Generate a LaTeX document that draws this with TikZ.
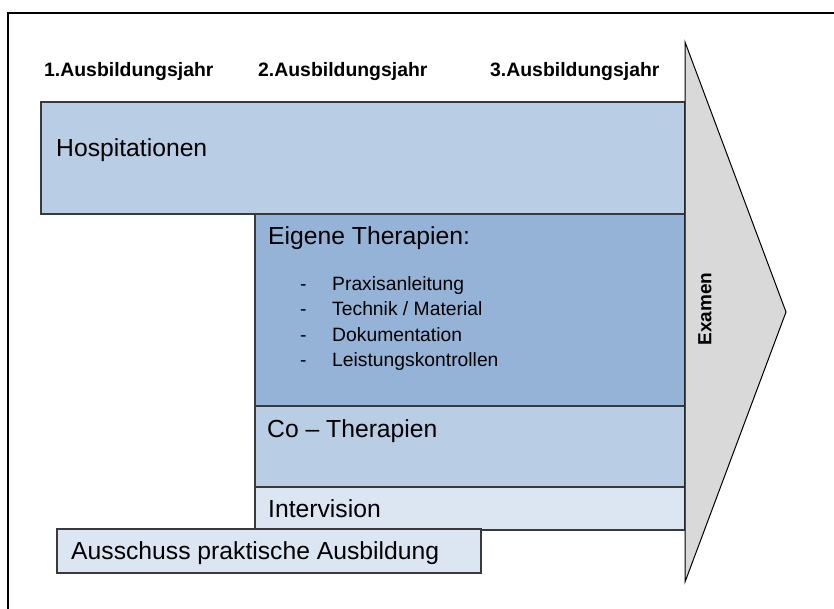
\documentclass[tikz,border=0pt]{standalone}
\usepackage{fontspec}
\setmainfont{Liberation Sans}
\definecolor{bluemid}{HTML}{B9CDE5}
\definecolor{bluedark}{HTML}{95B3D7}
\definecolor{bluelight}{HTML}{DCE6F2}
\definecolor{arrowgray}{HTML}{D9D9D9}
\definecolor{boxline}{HTML}{3A3A3A}
\begin{document}
\begin{tikzpicture}[x=1pt,y=-1pt,
  panel/.style={draw=boxline,line width=1.3pt},
  yearlbl/.style={anchor=base west,inner sep=0pt,font=\fontsize{19.4}{22}\selectfont\bfseries},
  bigtxt/.style={anchor=base west,inner sep=0pt,font=\fontsize{24.7}{28}\selectfont},
  itemtxt/.style={anchor=base west,inner sep=0pt,font=\fontsize{19.3}{22}\selectfont}]
\useasboundingbox (0,0) rectangle (834,608);
% outer frame
\draw[line width=2pt] (8,640) -- (8,13) -- (860,13);
% year labels
\node[yearlbl] (y1) at (44,76) {1.Ausbildungsjahr};
\node[yearlbl] (y2) at (258,76) {2.Ausbildungsjahr};
\node[yearlbl] (y3) at (490,76) {3.Ausbildungsjahr};
% panels
\filldraw[panel,fill=bluemid] (41,102) rectangle (685,214);
\filldraw[panel,fill=bluedark] (255,214) rectangle (685,406);
\filldraw[panel,fill=bluemid] (255,406) rectangle (685,487);
\filldraw[panel,fill=bluelight] (255,487) rectangle (685,530);
\filldraw[panel,fill=bluelight] (57,529) rectangle (481,573);
% texts
\node[bigtxt] (hosp) at (56,156) {Hospitationen};
\node[bigtxt] (eig) at (268,244) {Eigene Therapien:};
\node[itemtxt] (d1) at (300,290) {-};
\node[itemtxt] (i1) at (332,290) {Praxisanleitung};
\node[itemtxt] (d2) at (300,315.5) {-};
\node[itemtxt] (i2) at (332,315.5) {Technik / Material};
\node[itemtxt] (d3) at (300,341) {-};
\node[itemtxt] (i3) at (332,341) {Dokumentation};
\node[itemtxt] (d4) at (300,366.5) {-};
\node[itemtxt] (i4) at (332,366.5) {Leistungskontrollen};
\node[bigtxt] (co) at (267,437) {Co – Therapien};
\node[bigtxt] (inter) at (268,517) {Intervision};
\node[bigtxt] (aus) at (71,559) {Ausschuss praktische Ausbildung};
% exam arrow
\filldraw[fill=arrowgray,draw=black,line width=1pt,line join=miter] (685,42) -- (786,312) -- (685,582) -- cycle;
\node[rotate=90,inner sep=0pt,font=\fontsize{19}{22}\selectfont\bfseries] (ex) at (705,309) {Examen};
\end{tikzpicture}
\end{document}
